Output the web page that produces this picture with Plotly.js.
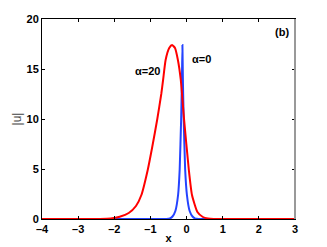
<!DOCTYPE html>
<html><head><meta charset="utf-8">
<script src="https://cdn.plot.ly/plotly-3.0.1.min.js"></script>
<style>html,body{margin:0;padding:0;background:#fff;}</style>
</head><body><div id="chart" style="width:327px;height:247px;"></div>
<script>
// alpha = 20 (red)
const redX = [-4, -3, -2.4, -2.1, -1.85, -1.6, -1.4, -1.25, -1.075, -0.95, -0.81, -0.7, -0.65, -0.58, -0.48, -0.40, -0.32, -0.24, -0.16, -0.07, 0.06, 0.15, 0.3, 0.45, 0.59, 0.75, 1, 3];
const redY = [0, 0, 0.01, 0.05, 0.23, 0.6, 1.3, 2.4, 4.9, 7.2, 10.0, 12.5, 13.9, 15.9, 17.1, 17.4, 17.1, 15.9, 13.9, 10.0, 5.0, 2.4, 0.7, 0.2, 0.05, 0, 0, 0];
// alpha = 0 (blue)
const blueX = [-4, -0.56, -0.46, -0.39, -0.31, -0.235, -0.19, -0.15, -0.13, -0.115, -0.10, -0.08, -0.04, 0.01, 0.085, 0.165, 0.235, 0.335, 3];
const blueY = [0, 0, 0.05, 0.25, 0.8, 2.4, 5.0, 10.0, 13.5, 17.4, 13.5, 10.0, 5.0, 2.4, 0.8, 0.25, 0.05, 0, 0];
const xTicks = [-4, -3, -2, -1, 0, 1, 2, 3];
const yTicks = [0, 5, 10, 15, 20];
const labels = [
  {x: -1.08, y: 14.8, text: 'α=20'},
  {x: 0.41, y: 16.0, text: 'α=0'},
  {x: 2.9, y: 18.7, text: '(b)'}
];

const font = {family: 'Liberation Sans, Arial, sans-serif', size: 11, color: '#000', weight: 'bold'};
const traces = [
  {x: blueX, y: blueY, mode: 'lines', line: {color: '#2443ff', width: 2, shape: 'spline', smoothing: 0.3}},
  {x: redX, y: redY, mode: 'lines', line: {color: '#ff0000', width: 2, shape: 'spline', smoothing: 0.5}}
];
const axisCommon = {showgrid: false, zeroline: false, showline: true, linecolor: '#000', linewidth: 1, mirror: 'ticks', ticks: 'inside', ticklen: 3, tickcolor: '#000', tickfont: font};
const layout = {
  width: 327, height: 247, showlegend: false,
  margin: {l: 42, r: 32, t: 19, b: 28},
  paper_bgcolor: '#fff', plot_bgcolor: '#fff',
  xaxis: Object.assign({}, axisCommon, {range: [-4, 3], tickvals: xTicks, ticktext: xTicks.map(v => v < 0 ? '–' + Math.abs(v) : String(v)),
    title: {text: 'x', font: font, standoff: 0}}),
  yaxis: Object.assign({}, axisCommon, {range: [0, 20], tickvals: yTicks,
    title: {text: '|u|', font: {family: 'Liberation Sans, Arial, sans-serif', size: 12, color: '#444'}, standoff: 2}}),
  shapes: [{type: 'line', xref: 'paper', yref: 'paper', x0: 1, x1: 1, y0: 0, y1: 1, line: {color: '#999', width: 2}}],
  annotations: labels.map((l, i) => ({x: l.x, y: l.y, xref: 'x', yref: 'y', text: l.text, showarrow: false,
    xanchor: i === 2 ? 'right' : 'center', font: font}))
};
Plotly.newPlot('chart', traces, layout, {displayModeBar: false, staticPlot: true});
</script></body></html>
